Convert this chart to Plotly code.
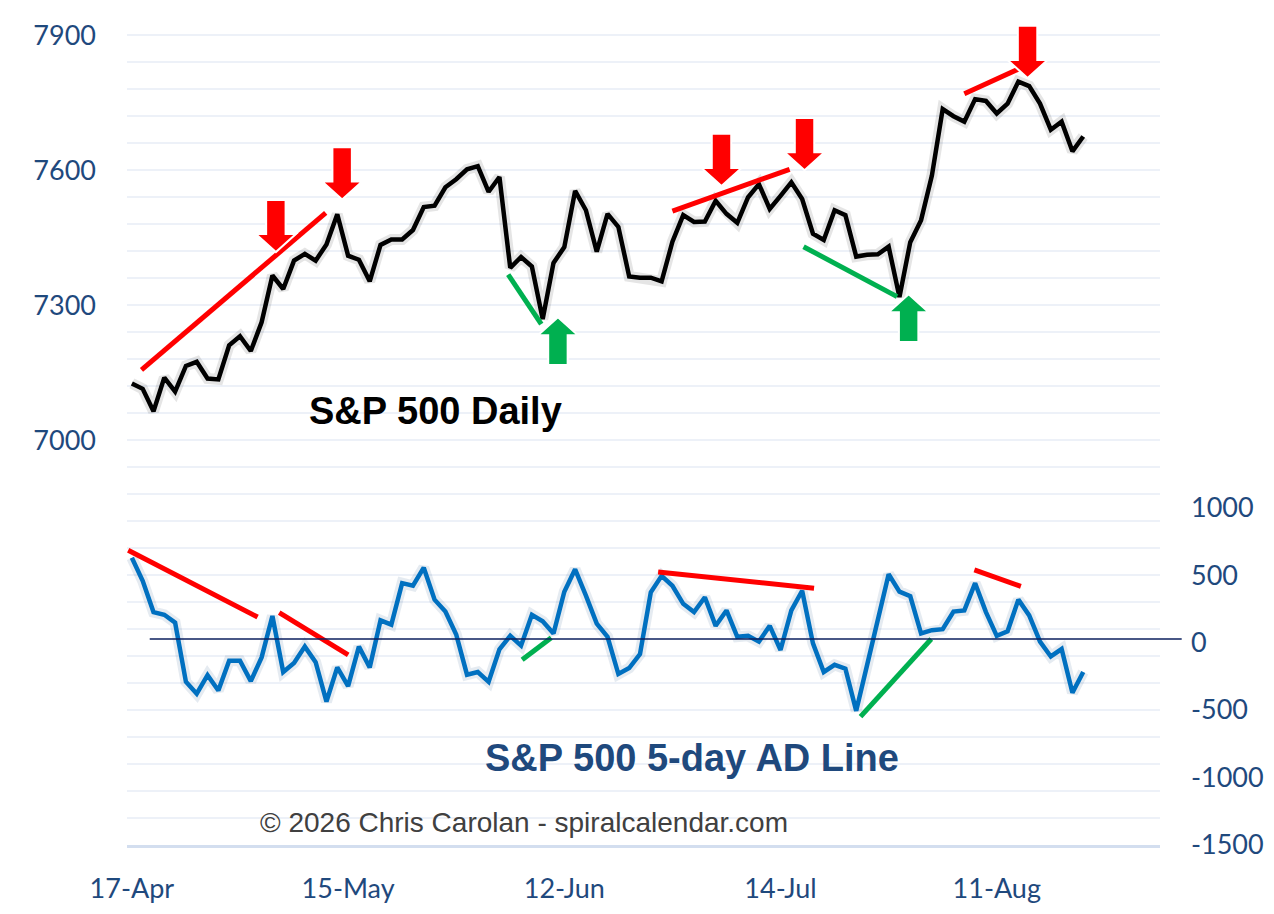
import plotly.graph_objects as go

# trading-day labels on the x axis (one label every 20 sessions)
tick_days = [0, 20, 40, 60, 80]
tick_text = ["17-Apr", "15-May", "12-Jun", "14-Jul", "11-Aug"]

# S&P 500 daily close
spx = [7126, 7114, 7064, 7139, 7108, 7165, 7174, 7137, 7135, 7211,
       7231, 7198, 7262, 7366, 7336, 7399, 7414, 7399, 7435, 7502,
       7410, 7401, 7353, 7434, 7446, 7446, 7467, 7518, 7521, 7562,
       7580, 7602, 7609, 7552, 7585, 7383, 7407, 7386, 7269, 7394,
       7429, 7554, 7511, 7419, 7503, 7474, 7364, 7361, 7361, 7353,
       7441, 7500, 7485, 7486, 7532, 7503, 7483, 7540, 7569, 7514,
       7543, 7573, 7536, 7459, 7445, 7511, 7500, 7408, 7412, 7413,
       7430, 7318, 7440, 7489, 7588, 7736, 7720, 7708, 7758, 7754,
       7726, 7748, 7797, 7787, 7748, 7690, 7708, 7642, 7675]

# S&P 500 5-day advance/decline line
ad_line = [628, 457, 226, 206, 148, -291, -379, -242, -355, -135,
           -135, -286, -110, 197, -218, -152, -30, -145, -437, -184,
           -323, -30, -184, 165, 133, 440, 421, 555, 318, 230,
           60, -238, -218, -291, -50, 50, -23, 206, 157, 67,
           377, 543, 348, 140, 43, -233, -189, -86, 372, 494,
           421, 287, 226, 336, 124, 238, 43, 50, 7, 124,
           -55, 238, 384, -6, -218, -165, -194, -506, -169, 168,
           506, 377, 343, 67, 92, 99, 230, 238, 440, 226,
           50, 84, 318, 201, 7, -103, -48, -372, -218]

left_labels = [7000, 7300, 7600, 7900]
right_labels = [-1500, -1000, -500, 0, 500, 1000]

day = list(range(len(spx)))

BLUE_TXT = "#1F497D"
RED = "#FF0000"
GREEN = "#00B050"

fig = go.Figure()

# soft shadows under the lines
fig.add_scatter(x=day, y=spx, mode="lines", line=dict(color="rgba(0,0,0,0.10)", width=11),
                hoverinfo="skip", showlegend=False)
fig.add_scatter(x=day, y=ad_line, mode="lines", yaxis="y2",
                line=dict(color="rgba(0,60,120,0.10)", width=11),
                hoverinfo="skip", showlegend=False)

fig.add_scatter(x=day, y=spx, mode="lines", name="S&P 500",
                line=dict(color="black", width=4.5), showlegend=False)
fig.add_scatter(x=day, y=ad_line, mode="lines", name="AD Line", yaxis="y2",
                line=dict(color="#0070C0", width=4.5), showlegend=False)

# hand-drawn divergence lines: (x0, y0, x1, y1, colour, axis)
trend_lines = [
    (0.89, 7156, 17.93, 7505, RED, "y"),
    (34.81, 7368, 37.87, 7258, GREEN, "y"),
    (50.0, 7509, 60.84, 7602, RED, "y"),
    (62.13, 7430, 70.78, 7319, GREEN, "y"),
    (77.0, 7770, 82.38, 7829, RED, "y"),
    (-0.34, 684, 11.63, 189, RED, "y2"),
    (13.63, 221, 20.01, -91, RED, "y2"),
    (36.1, -128, 38.79, 36, GREEN, "y2"),
    (48.68, 523, 63.1, 402, RED, "y2"),
    (67.4, -549, 73.94, 26, GREEN, "y2"),
    (77.93, 538, 82.23, 416, RED, "y2"),
]
shapes = []
for x0, y0, x1, y1, col, ax in trend_lines:
    shapes.append(dict(type="line", xref="x", yref=ax, x0=x0, y0=y0, x1=x1, y1=y1,
                       line=dict(color=col, width=5), layer="above"))

# zero reference line of the AD panel
shapes.append(dict(type="line", xref="paper", yref="y2", x0=0.022, x1=1.021, y0=27, y1=27,
                   line=dict(color="#0B1F5E", width=1.5), layer="above"))


def block_arrow(xt, yt, direction, color, length):
    # direction -1 = pointing down, +1 = pointing up; tip at (xt, yt)
    sw, hw, hh = 0.9, 1.85, 40
    d = -direction
    yb = yt + d * hh
    ye = yt + d * length
    path = (f"M {xt},{yt} L {xt - hw},{yb} L {xt - sw},{yb} L {xt - sw},{ye} "
            f"L {xt + sw},{ye} L {xt + sw},{yb} L {xt + hw},{yb} Z")
    return dict(type="path", xref="x", yref="y", path=path, fillcolor=color,
                line=dict(color="white", width=2), layer="above")


arrows = [
    (13.32, 7418, -1, RED, 116),
    (19.45, 7535, -1, RED, 116),
    (39.41, 7273, 1, GREEN, 106),
    (54.54, 7565, -1, RED, 116),
    (62.22, 7600, -1, RED, 116),
    (71.85, 7324, 1, GREEN, 106),
    (82.85, 7805, -1, RED, 116),
]
for a in arrows:
    shapes.append(block_arrow(*a))

fig.add_annotation(x=28.1, y=7064, xref="x", yref="y", text="<b>S&P 500 Daily</b>",
                   showarrow=False, font=dict(family="Liberation Sans, Arial", size=38, color="black"))
fig.add_annotation(x=51.8, y=-854, xref="x", yref="y2", text="<b>S&P 500 5-day AD Line</b>",
                   showarrow=False, font=dict(family="Liberation Sans, Arial", size=38, color=BLUE_TXT))
fig.add_annotation(x=36.3, y=-1330, xref="x", yref="y2",
                   text="© 2026 Chris Carolan - spiralcalendar.com",
                   showarrow=False, font=dict(family="Liberation Sans, Arial", size=28, color="#404040"))

grid_vals = list(range(6100, 7901, 60))
grid_text = [str(v) if v in left_labels else "" for v in grid_vals]

tick_font = dict(family="Lato, Open Sans, sans-serif", size=27, color=BLUE_TXT)

# the page body has an 8px margin, so the figure is sized/offset for that
fig.update_layout(
    width=1266, height=906,
    margin=dict(l=119, r=109, t=10, b=65),
    paper_bgcolor="white", plot_bgcolor="white",
    shapes=shapes,
    xaxis=dict(range=[-0.45, 95.1], tickvals=tick_days, ticktext=tick_text,
               showgrid=False, zeroline=False, showline=True, linecolor="#D3DEEF", linewidth=2.5,
               ticks="", tickfont=tick_font, ticklabelstandoff=18),
    yaxis=dict(range=[6100, 7925], tickvals=grid_vals, ticktext=grid_text,
               showgrid=True, gridcolor="#EDF1F8", gridwidth=2, zeroline=False,
               ticks="", tickfont=tick_font, ticklabelstandoff=30),
    yaxis2=dict(range=[-1500, 4583.3], overlaying="y", side="right",
                tickvals=right_labels, ticktext=[str(v) for v in right_labels],
                showgrid=False, zeroline=False,
                ticks="", tickfont=tick_font, ticklabelstandoff=30),
)

fig.write_html("out.html")
